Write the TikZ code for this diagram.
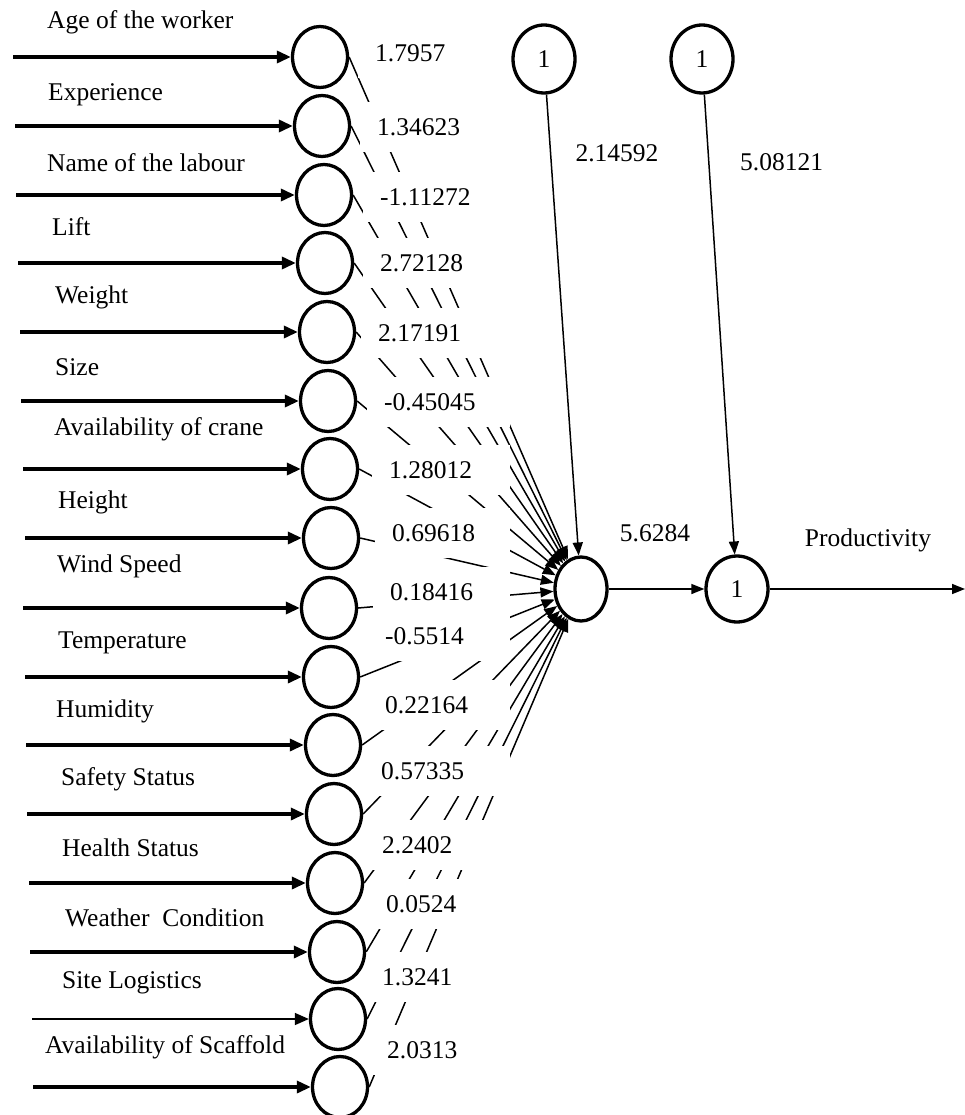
\documentclass[tikz,border=0pt]{standalone}
\usepackage{fontspec}
\setmainfont{Liberation Serif}
\usetikzlibrary{arrows.meta,shapes.geometric}
\pgfdeclarelayer{bg}
\pgfsetlayers{bg,main}
\begin{document}
\begin{tikzpicture}[x=1pt,y=-1pt,
  every node/.style={font=\fontsize{25.5}{30}\selectfont},
  neuron/.style={draw, ellipse, line width=3.3pt, minimum width=55pt, minimum height=61pt, inner sep=0pt},
  inarrow/.style={-{Triangle[length=14pt,width=12pt]}},
  conn/.style={line width=1.5pt, -{Triangle[length=13pt,width=10pt]}},
  plain/.style={inner sep=0pt, anchor=west},
  wlabel/.style={fill=white, inner xsep=17pt, inner ysep=0pt, minimum height=50pt, anchor=west, align=left}]
\useasboundingbox (0,0) rectangle (965,1115);

% weight labels (white boxes hide parts of the connectors)
\foreach \j/\L/\c/\w in {1/375/53/1.7957, 2/377/127/1.34623, 3/380/197/-1.11272,
  4/380/263/2.72128, 5/378/333/2.17191, 6/384/402/-0.45045, 7/389/470/1.28012,
  8/392/533/0.69618, 9/390/592/0.18416, 10/385/636/-0.5514, 11/385/705/0.22164,
  12/381/771/0.57335, 13/382/845/2.2402, 14/386/904/0.0524, 15/382/977/1.3241,
  16/387/1050/2.0313}{
  \pgfmathsetmacro\tw{493-\L}
  \node[wlabel, text width=\tw pt] (w\j) at ({\L-17},\c) {\w};
}

% hidden, bias and output neurons
\node[neuron, minimum width=52pt, minimum height=64pt] (h) at (581,589) {};
\node[neuron, minimum width=62pt, minimum height=66pt] (o) at (737,589) {1};
\node[neuron, minimum width=62pt, minimum height=68pt] (b1) at (544,59) {1};
\node[neuron, minimum width=62pt, minimum height=68pt] (b2) at (702,59) {1};

% input neurons, their arrows and labels
\foreach \i/\x/\y/\sx/\lx/\ly/\lw/\txt in {
  1/320/57/13/47/22/3.3/Age of the worker,
  2/322/126/15/48/95/3.3/Experience,
  3/324/195/16/47/163/3.3/Name of the labour,
  4/325/263/18/52/227/3.3/Lift,
  5/327/332/20/55/297/3.3/Weight,
  6/328/401/21/55/367/3.3/Size,
  7/330/469/23/54/429/3.3/Availability of crane,
  8/331/538/25/58/502/3.3/Height,
  9/329/608/23/57/566/3.3/Wind Speed,
  10/331/677/25/58/643/3.3/Temperature,
  11/333/745/26/56/711/3.3/Humidity,
  12/334/814/27/61/779/3.3/Safety Status,
  13/335/883/29/62/848/3.3/Health Status,
  14/337/952/30/65/918/3.3/Weather~~Condition,
  15/338/1019/32/62/983/1.6/Site Logistics,
  16/340/1087/33/45/1047/3.3/Availability of Scaffold}{
  \node[neuron] (c\i) at (\x,\y) {};
  \coordinate (s\i) at (\sx,\y);
  \draw[inarrow, line width=\lw pt] (s\i) -- (c\i.west);
  \node[plain] (l\i) at (\lx,\ly) {\txt};
  \begin{pgfonlayer}{bg}
    \draw[conn] (c\i.east) -- (h);
  \end{pgfonlayer}
}

% bias and output connectors
\draw[conn] (b1) -- (h);
\draw[conn] (b2) -- (o);
\draw[conn] (h) -- (o);
\coordinate (out) at (965,589);
\draw[conn] (o) -- (out);

% other labels
\node (t1) at (617,153) {2.14592};
\node[plain] (t2) at (740,162) {5.08121};
\node (t3) at (655,533) {5.6284};
\node (t4) at (868,540) {Productivity};
\end{tikzpicture}
\end{document}
